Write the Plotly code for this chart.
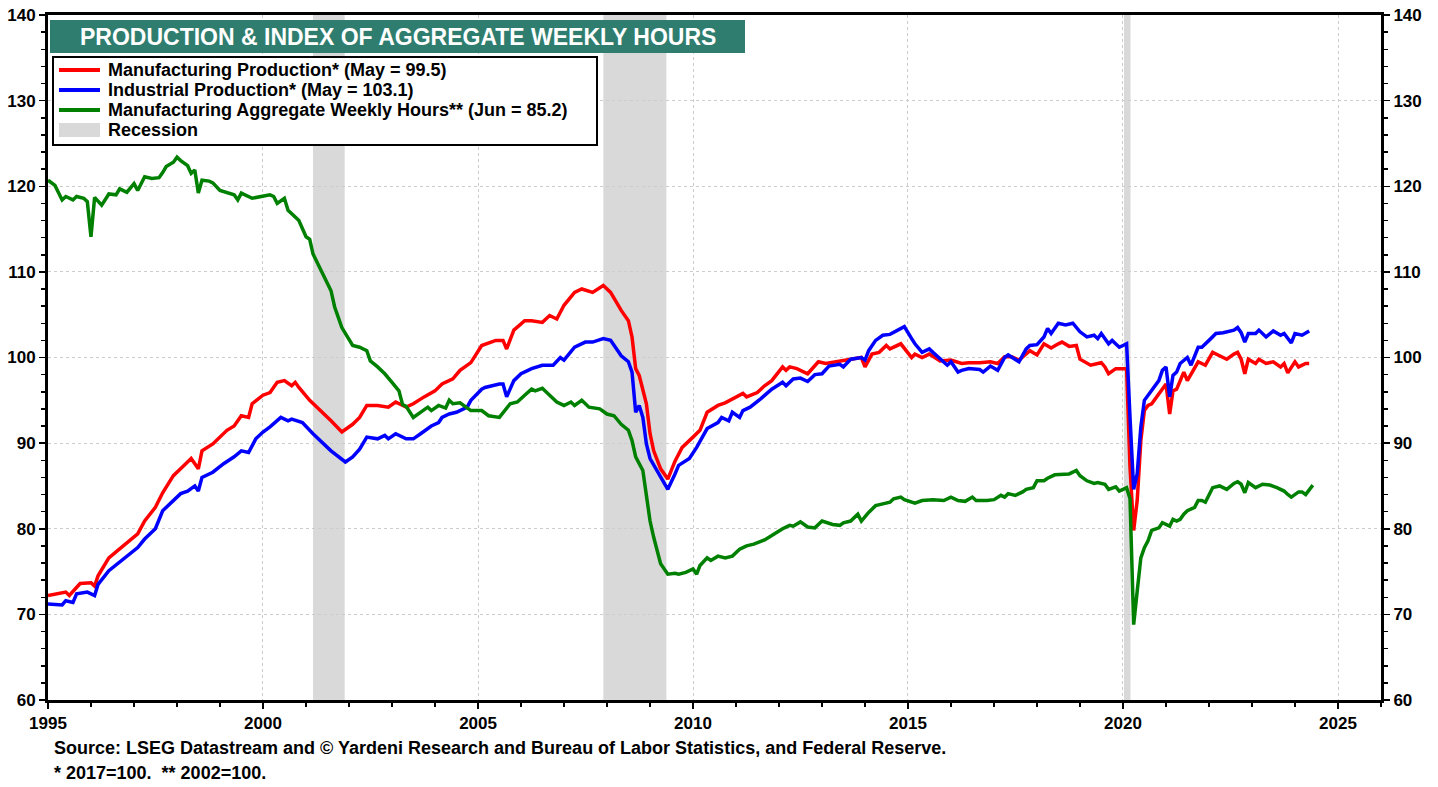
import plotly.graph_objects as go

# ---------------- data ----------------
mfg_dates = ["1995-01","1995-06","1995-07","1995-10","1996-01","1996-02","1996-03","1996-06","1996-10",
"1997-02","1997-04","1997-07","1997-09","1997-12","1998-03","1998-05","1998-07","1998-08","1998-11",
"1999-03","1999-05","1999-07","1999-09","1999-10","2000-01","2000-03","2000-05","2000-07","2000-09",
"2000-10","2000-11","2001-02","2001-08","2001-11","2002-02","2002-04","2002-06","2002-09","2002-12",
"2003-02","2003-05","2003-07","2003-10","2004-01","2004-03","2004-06","2004-08","2004-11","2005-02",
"2005-06","2005-08","2005-09","2005-11","2006-02","2006-04","2006-07","2006-09","2006-11","2007-01",
"2007-04","2007-06","2007-09","2007-12","2008-02","2008-05","2008-07","2008-08","2008-09","2008-10",
"2008-12","2009-01","2009-02","2009-04","2009-06","2009-08","2009-10","2010-01","2010-03","2010-05",
"2010-08","2010-10","2011-01","2011-03","2011-04","2011-07","2011-09","2011-11","2012-02","2012-03",
"2012-04","2012-06","2012-09","2012-12","2013-02","2013-06","2013-09","2013-12","2014-01","2014-03",
"2014-05","2014-07","2014-08","2014-11","2015-02","2015-03","2015-05","2015-07","2015-10","2016-01",
"2016-04","2016-06","2016-09","2016-12","2017-02","2017-04","2017-06","2017-08","2017-11","2018-01",
"2018-03","2018-05","2018-07","2018-08","2018-10","2018-12","2019-01","2019-04","2019-06","2019-07",
"2019-08","2019-09","2019-11","2020-01","2020-02","2020-03","2020-04","2020-05","2020-06","2020-07",
"2020-08","2020-09","2020-11","2021-01","2021-02","2021-03","2021-04","2021-05","2021-06","2021-07",
"2021-09","2021-10","2021-12","2022-02","2022-04","2022-06","2022-08","2022-09","2022-10","2022-11",
"2022-12","2023-02","2023-03","2023-05","2023-07","2023-09","2023-10","2023-11","2024-01","2024-02",
"2024-04","2024-05"]
mfg_values = [72.2,72.6,72.2,73.6,73.7,73.3,74.5,76.6,78.0,
79.4,80.9,82.5,84.2,86.2,87.4,88.2,87.0,89.1,89.9,
91.5,92.0,93.2,93.0,94.6,95.6,95.9,97.1,97.3,96.7,
97.1,96.5,95.0,92.6,91.3,92.2,93.0,94.4,94.4,94.2,
94.8,94.2,94.6,95.4,96.1,96.9,97.5,98.5,99.4,101.4,
102.0,102.0,101.0,103.2,104.3,104.3,104.1,104.9,104.5,106.1,
107.6,108.0,107.6,108.4,107.6,105.5,104.3,102.4,98.7,97.9,
94.6,91.1,89.1,87.0,85.8,87.9,89.5,90.7,91.5,93.6,
94.4,94.7,95.4,95.8,95.4,95.9,96.7,97.3,98.9,98.5,
98.9,98.7,98.1,99.5,99.3,99.6,99.8,100.0,98.9,100.4,
100.6,101.4,101.0,101.6,100.0,100.4,100.0,100.4,99.6,99.7,
99.3,99.4,99.4,99.5,99.3,100.1,100.1,99.7,100.8,100.3,
101.6,101.1,101.6,101.8,101.3,101.4,99.8,99.1,99.3,99.4,
98.9,98.1,98.7,98.7,98.7,87.2,79.8,83.3,90.3,93.8,
94.4,94.6,95.8,96.9,93.4,96.1,96.3,97.3,98.3,97.3,
98.9,99.5,99.1,100.6,100.2,99.8,100.4,100.6,99.8,98.1,
99.8,99.3,99.8,99.3,99.5,98.9,99.3,98.2,99.5,98.9,
99.3,99.3]

ip_dates = ["1995-01","1995-05","1995-06","1995-08","1995-09","1995-12","1996-02","1996-03","1996-06",
"1996-10","1997-02","1997-04","1997-07","1997-09","1997-12","1998-02","1998-04","1998-06","1998-07",
"1998-08","1998-11","1999-02","1999-05","1999-07","1999-09","1999-11","2000-01","2000-03","2000-06",
"2000-08","2000-09","2000-11","2000-12","2001-03","2001-08","2001-12","2002-02","2002-04","2002-06",
"2002-09","2002-11","2002-12","2003-02","2003-05","2003-07","2003-09","2003-12","2004-02","2004-03",
"2004-05","2004-07","2004-10","2004-11","2005-02","2005-03","2005-07","2005-08","2005-09","2005-11",
"2006-01","2006-04","2006-07","2006-10","2006-12","2007-01","2007-04","2007-07","2007-09","2007-12",
"2008-02","2008-03","2008-05","2008-07","2008-08","2008-09","2008-10","2008-11","2008-12","2009-01",
"2009-03","2009-05","2009-06","2009-08","2009-09","2009-12","2010-02","2010-05","2010-08","2010-09",
"2010-11","2010-12","2011-02","2011-03","2011-05","2011-08","2011-09","2011-11","2012-02","2012-03",
"2012-05","2012-07","2012-09","2012-11","2013-01","2013-03","2013-06","2013-07","2013-09","2013-12",
"2014-01","2014-02","2014-04","2014-06","2014-08","2014-10","2014-12","2015-02","2015-03","2015-05",
"2015-07","2015-08","2015-10","2015-12","2016-01","2016-03","2016-04","2016-06","2016-09","2016-10",
"2016-12","2017-02","2017-04","2017-05","2017-08","2017-10","2017-11","2018-01","2018-03","2018-04",
"2018-05","2018-06","2018-07","2018-09","2018-11","2019-01","2019-03","2019-05","2019-06","2019-07",
"2019-09","2019-10","2019-12","2020-01","2020-02","2020-03","2020-04","2020-05","2020-06","2020-07",
"2020-08","2020-09","2020-11","2020-12","2021-01","2021-02","2021-03","2021-04","2021-05","2021-07",
"2021-08","2021-10","2021-11","2022-01","2022-03","2022-05","2022-08","2022-09","2022-10","2022-11",
"2022-12","2023-02","2023-03","2023-05","2023-07","2023-09","2023-10","2023-12","2024-01","2024-03",
"2024-05"]
ip_values = [71.2,71.1,71.6,71.4,72.4,72.6,72.2,73.5,75.1,
76.5,77.8,78.8,80.0,82.1,83.3,84.1,84.4,85.0,84.4,
86.0,86.6,87.6,88.4,89.1,88.9,90.5,91.3,91.9,93.0,
92.6,92.8,92.6,92.4,91.1,89.1,87.8,88.4,89.3,90.7,
90.5,90.9,90.5,91.1,90.5,90.5,91.1,92.0,92.4,93.0,
93.4,93.6,94.2,95.0,96.3,96.5,96.9,96.9,95.4,97.3,
98.1,98.7,99.1,99.1,100.0,99.7,101.2,101.8,101.8,102.2,
102.0,101.4,100.2,99.5,98.3,93.6,94.4,93.0,89.9,88.2,
86.8,85.2,84.6,86.4,87.4,88.2,89.5,91.7,92.4,93.0,
92.6,93.6,93.0,93.8,94.2,95.2,95.6,96.3,97.1,96.7,
97.5,97.6,97.2,98.0,98.1,99.0,99.2,98.9,99.8,100.0,
99.7,100.8,102.0,102.6,102.7,103.2,103.6,102.2,101.6,100.6,
101.0,100.6,99.8,99.1,99.5,98.3,98.5,98.7,98.6,98.3,
99.0,98.5,100.0,100.3,99.5,101.0,101.4,101.5,102.4,103.4,
102.8,103.4,104.0,103.8,104.0,103.0,102.4,102.6,102.2,102.8,
101.6,102.0,101.2,101.4,101.6,93.0,84.6,86.4,91.9,95.0,
95.6,96.1,97.3,98.5,98.9,95.4,97.9,98.3,99.3,100.0,
99.1,101.2,101.2,102.0,102.8,102.9,103.2,103.5,102.9,101.8,
102.8,102.8,103.2,102.4,103.1,102.6,102.8,101.7,102.8,102.6,
103.1]

hours_dates = ["1995-01","1995-03","1995-05","1995-06","1995-08","1995-09","1995-11","1995-12","1996-01",
"1996-02","1996-04","1996-06","1996-08","1996-09","1996-11","1997-01","1997-02","1997-04","1997-06",
"1997-08","1997-09","1997-10","1997-12","1998-01","1998-02","1998-04","1998-05","1998-06","1998-07",
"1998-08","1998-10","1998-11","1999-01","1999-04","1999-05","1999-06","1999-07","1999-10","2000-01",
"2000-03","2000-04","2000-05","2000-07","2000-08","2000-10","2000-11","2001-01","2001-02","2001-03",
"2001-06","2001-08","2001-09","2001-11","2002-02","2002-04","2002-06","2002-07","2002-09","2002-11",
"2003-01","2003-03","2003-04","2003-05","2003-07","2003-09","2003-11","2003-12","2004-02","2004-04",
"2004-05","2004-06","2004-08","2004-11","2005-02","2005-04","2005-07","2005-10","2005-12","2006-02",
"2006-04","2006-05","2006-07","2006-09","2006-11","2007-01","2007-03","2007-04","2007-06","2007-08",
"2007-11","2008-01","2008-03","2008-05","2008-07","2008-08","2008-09","2008-11","2008-12","2009-01",
"2009-02","2009-03","2009-04","2009-06","2009-08","2009-09","2009-11","2010-01","2010-02","2010-03",
"2010-05","2010-06","2010-08","2010-10","2010-12","2011-02","2011-04","2011-06","2011-08","2011-09",
"2011-11","2012-02","2012-04","2012-05","2012-07","2012-09","2012-11","2013-01","2013-04","2013-06",
"2013-07","2013-09","2013-11","2013-12","2014-02","2014-04","2014-06","2014-08","2014-09","2014-11",
"2014-12","2015-03","2015-05","2015-08","2015-11","2016-01","2016-03","2016-05","2016-07","2016-08",
"2016-11","2017-01","2017-03","2017-04","2017-05","2017-07","2017-09","2017-10","2017-12","2018-01",
"2018-03","2018-04","2018-06","2018-08","2018-10","2018-12","2019-01","2019-03","2019-05","2019-06",
"2019-08","2019-09","2019-11","2019-12","2020-02","2020-03","2020-04","2020-05","2020-06","2020-07",
"2020-08","2020-09","2020-11","2020-12","2021-02","2021-03","2021-04","2021-05","2021-06","2021-07",
"2021-09","2021-10","2021-11","2021-12","2022-02","2022-04","2022-06","2022-08","2022-09","2022-10",
"2022-11","2022-12","2023-02","2023-04","2023-06","2023-08","2023-10","2023-11","2023-12","2024-02",
"2024-03","2024-04","2024-06"]
hours_values = [120.7,120.1,118.4,118.8,118.4,118.8,118.6,118.2,114.1,
118.7,117.8,119.1,119.0,119.7,119.3,120.3,119.5,121.1,120.9,
121.0,121.6,122.3,122.8,123.4,123.0,122.4,121.5,121.9,119.2,
120.7,120.6,120.4,119.5,119.2,119.0,118.4,119.2,118.6,118.8,
119.0,118.8,118.0,118.6,117.2,116.4,116.0,114.1,113.8,112.1,
109.4,107.8,105.9,103.5,101.4,101.2,100.8,99.6,98.9,98.1,
97.1,96.1,94.5,94.3,93.0,93.6,94.2,93.8,94.4,94.1,
95.0,94.6,94.7,93.8,93.8,93.2,93.0,94.6,94.8,95.6,
96.3,96.1,96.4,95.6,94.8,94.4,94.8,94.4,95.0,94.2,
94.0,93.4,93.2,92.2,91.5,90.3,88.4,86.8,83.7,80.9,
79.0,77.4,75.9,74.7,74.8,74.7,74.9,75.3,74.7,75.7,
76.6,76.3,76.8,76.6,76.8,77.6,78.0,78.2,78.5,78.7,
79.2,80.0,80.4,80.3,80.8,80.2,80.1,80.9,80.5,80.4,
80.7,80.9,81.7,80.9,81.9,82.7,82.9,83.1,83.5,83.7,
83.4,83.0,83.3,83.4,83.3,83.7,83.3,83.2,83.7,83.3,
83.3,83.4,83.9,83.7,84.1,83.9,84.3,84.6,84.8,85.6,
85.6,85.9,86.3,86.3,86.4,86.8,86.2,85.6,85.3,85.4,
85.2,84.6,84.9,84.4,84.8,83.5,68.8,72.7,76.6,77.8,
78.6,79.8,80.1,80.7,80.3,81.1,80.9,81.1,81.7,82.1,
82.5,83.3,83.3,83.1,84.8,85.0,84.6,85.3,85.5,85.2,
84.2,85.4,84.8,85.2,85.1,84.8,84.4,84.0,83.7,84.3,
84.3,84.0,85.1]

recession_starts = ["2001-03-01", "2007-12-01", "2020-01-10"]
recession_ends = ["2001-11-25", "2009-05-20", "2020-03-05"]

series_names = [
    "Manufacturing Production* (May = 99.5)",
    "Industrial Production* (May = 103.1)",
    "Manufacturing Aggregate Weekly Hours** (Jun = 85.2)",
]
recession_name = "Recession"
title_text = "PRODUCTION & INDEX OF AGGREGATE WEEKLY HOURS"
source_text = "Source: LSEG Datastream and © Yardeni Research and Bureau of Labor Statistics, and Federal Reserve."
note_text = "* 2017=100.&nbsp; ** 2002=100."

y_range = [60, 140]
x_range = ["1995-01-01", "2026-01-01"]

# ---------------- layout helpers ----------------
# The page's body margin is removed (post_script below), so figure pixels = window pixels.
W, H = 1438, 787
# plot area, in window pixels
PL, PR, PT, PB = 48, 1381, 15, 700


def px(x):
    return (x - PL) / (PR - PL)


def py(y):
    return 1 - (y - PT) / (PB - PT)


FONT = "Liberation Sans, Arial, sans-serif"
RED, BLUE, GREEN = "#ff0000", "#0000ff", "#008000"
REC_GRAY = "#d9d9d9"
TEAL = "#2e7d6e"
GRID = "#cccccc"

fig = go.Figure()
fig.add_trace(go.Scatter(x=mfg_dates, y=mfg_values, mode="lines", name=series_names[0],
                         line=dict(color=RED, width=3.5), showlegend=False))
fig.add_trace(go.Scatter(x=ip_dates, y=ip_values, mode="lines", name=series_names[1],
                         line=dict(color=BLUE, width=3.5), showlegend=False))
fig.add_trace(go.Scatter(x=hours_dates, y=hours_values, mode="lines", name=series_names[2],
                         line=dict(color=GREEN, width=3.5), showlegend=False, yaxis="y2"))

shapes = []
for s, e in zip(recession_starts, recession_ends):
    shapes.append(dict(type="rect", xref="x", yref="paper", x0=s, x1=e, y0=0, y1=1,
                       fillcolor=REC_GRAY, line=dict(width=0), layer="below"))

# title box
shapes.append(dict(type="rect", xref="paper", yref="paper", x0=px(50), x1=px(745), y0=py(53), y1=py(20),
                   fillcolor=TEAL, line=dict(width=0), layer="above"))
# legend box
shapes.append(dict(type="rect", xref="paper", yref="paper", x0=px(53), x1=px(597), y0=py(145), y1=py(57),
                   fillcolor="white", line=dict(color="black", width=2), layer="above"))

annotations = [
    dict(text="<b>" + title_text + "</b>", x=px(398), y=py(37), xref="paper", yref="paper",
         showarrow=False, xanchor="center", yanchor="middle",
         font=dict(family=FONT, size=23, color="white")),
]

legend_rows = [70, 90, 110, 130]
for name, color, yy in zip(series_names, [RED, BLUE, GREEN], legend_rows[:3]):
    shapes.append(dict(type="line", xref="paper", yref="paper", x0=px(59), x1=px(100), y0=py(yy), y1=py(yy),
                       line=dict(color=color, width=4), layer="above"))
    annotations.append(dict(text="<b>" + name + "</b>", x=px(106), y=py(yy), xref="paper", yref="paper",
                            showarrow=False, xanchor="left", yanchor="middle",
                            font=dict(family=FONT, size=18, color="black")))
shapes.append(dict(type="rect", xref="paper", yref="paper", x0=px(59), x1=px(100),
                   y0=py(legend_rows[3] + 7), y1=py(legend_rows[3] - 7),
                   fillcolor=REC_GRAY, line=dict(width=0), layer="above"))
annotations.append(dict(text="<b>" + recession_name + "</b>", x=px(106), y=py(legend_rows[3]),
                        xref="paper", yref="paper", showarrow=False, xanchor="left", yanchor="middle",
                        font=dict(family=FONT, size=18, color="black")))

annotations.append(dict(text="<b>" + source_text + "</b>", x=px(52), y=py(748), xref="paper", yref="paper",
                        showarrow=False, xanchor="left", yanchor="middle",
                        font=dict(family=FONT, size=18, color="black")))
annotations.append(dict(text="<b>" + note_text + "</b>",
                        x=px(52), y=py(773), xref="paper", yref="paper",
                        showarrow=False, xanchor="left", yanchor="middle",
                        font=dict(family=FONT, size=18, color="black")))

tickfont = dict(family=FONT, size=17, color="black", weight="bold")

fig.update_layout(
    width=W, height=H,
    margin=dict(l=PL, r=W - PR, t=PT, b=H - PB, pad=0, autoexpand=False),
    paper_bgcolor="white", plot_bgcolor="white",
    showlegend=False,
    hovermode=False,
    shapes=shapes, annotations=annotations,
    xaxis=dict(type="date", range=x_range, dtick="M60", tick0="1995-01-01", tickformat="%Y",
               showgrid=True, gridcolor=GRID, griddash="dot", gridwidth=1,
               showline=True, linecolor="black", linewidth=3, mirror=True,
               ticks="outside", ticklen=6, tickwidth=1.5, tickcolor="black",
               minor=dict(dtick="M12", tick0="1995-01-01", ticks="outside", ticklen=4,
                          tickwidth=1.5, tickcolor="black", showgrid=False),
               tickfont=tickfont, zeroline=False, automargin=False, ticklabeloverflow="allow"),
    yaxis=dict(range=y_range, dtick=10, tick0=60,
               showgrid=True, gridcolor=GRID, griddash="dot", gridwidth=1,
               showline=True, linecolor="black", linewidth=3, mirror=True,
               ticks="outside", ticklen=6, tickwidth=1.5, tickcolor="black",
               minor=dict(dtick=2, tick0=60, ticks="outside", ticklen=4, tickwidth=1.5,
                          tickcolor="black", showgrid=False),
               tickfont=tickfont, zeroline=False, automargin=False, ticklabeloverflow="allow"),
    yaxis2=dict(range=y_range, dtick=10, tick0=60, overlaying="y", side="right",
                showgrid=False, showline=True, linecolor="black", linewidth=3,
                ticks="outside", ticklen=6, tickwidth=1.5, tickcolor="black",
                minor=dict(dtick=2, tick0=60, ticks="outside", ticklen=4, tickwidth=1.5,
                           tickcolor="black", showgrid=False),
                tickfont=tickfont, zeroline=False, automargin=False, ticklabeloverflow="allow"),
)

fig.write_html(
    "out.html",
    config={"displayModeBar": False, "staticPlot": True},
    post_script="document.body.style.margin='0';document.body.style.overflow='hidden';"
                "document.documentElement.style.overflow='hidden';",
)
